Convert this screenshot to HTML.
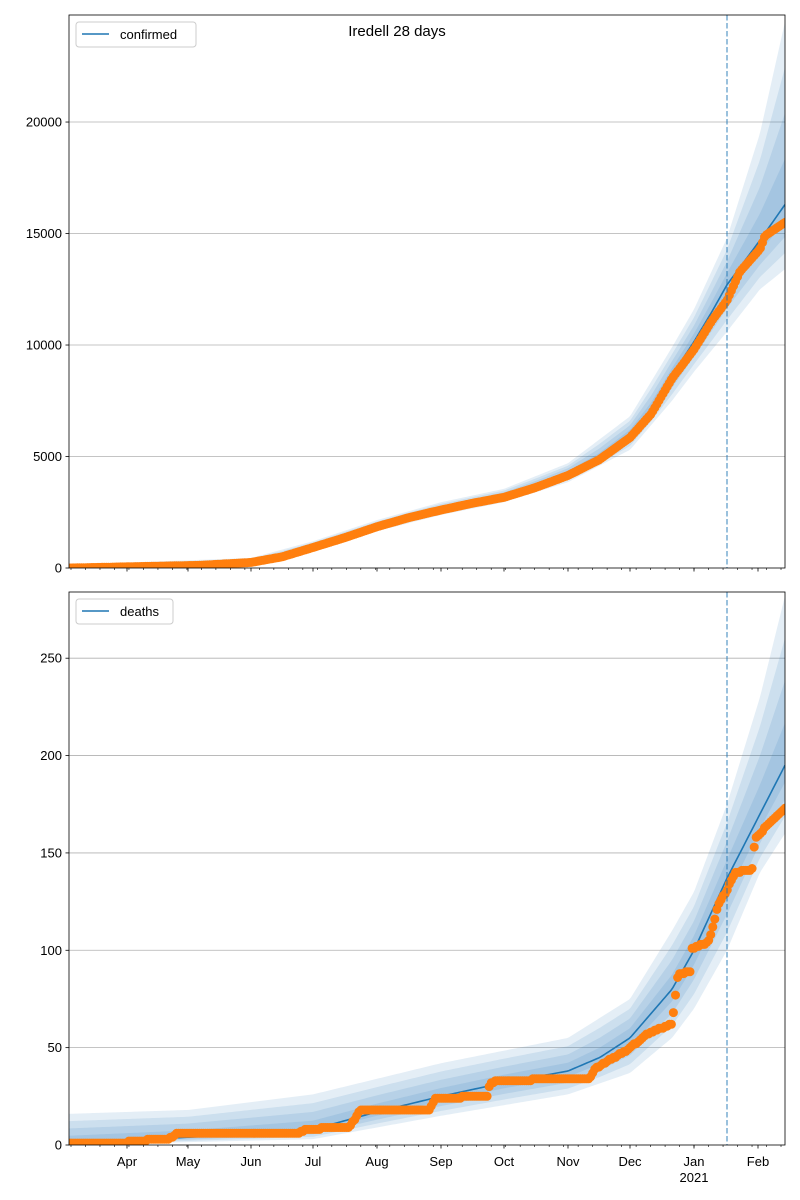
<!DOCTYPE html>
<html><head><meta charset="utf-8">
<style>body{margin:0;background:#fff}svg{display:block;font-family:"Liberation Sans","DejaVu Sans",sans-serif}</style>
</head><body>
<svg id="s" width="800" height="1200" xmlns="http://www.w3.org/2000/svg"></svg>
<script>
const S=document.getElementById('s');let h='';
function ip(k,x){if(x<=k[0][0])return k[0][1];for(let i=1;i<k.length;i++){if(x<=k[i][0]){const a=k[i-1],b=k[i];return a[1]+(b[1]-a[1])*(x-a[0])/(b[0]-a[0]);}}return k[k.length-1][1];}
const X0=69,X1=785,DX=2.07;
function panel(top,bot,vmax,ticks,mid,lo,hi,obs,label,step){
  const Y=v=>bot-(v/vmax)*(bot-top);
  ticks.forEach(t=>{const y=Y(t);if(t>0)h+=`<line x1="${X0}" x2="${X1}" y1="${y}" y2="${y}" stroke="#b0b0b0" stroke-width="0.8"/>`;
    h+=`<line x1="${X0-3.5}" x2="${X0}" y1="${y}" y2="${y}" stroke="#000" stroke-width="0.8"/><text x="${X0-7}" y="${y+4.5}" font-size="13" text-anchor="end">${t}</text>`;});
  h+=`<clipPath id="c${top}"><rect x="${X0}" y="${top}" width="${X1-X0}" height="${bot-top}"/></clipPath><g clip-path="url(#c${top})">`;
  [1,0.75,0.5,0.25].forEach(f=>{let up=[],dn=[];for(let x=X0;x<=X1;x+=2){const m=ip(mid,x);up.push(x+','+Y(m+(ip(hi,x)-m)*f));dn.unshift(x+','+Y(m-(m-ip(lo,x))*f));}
    h+=`<polygon points="${up.join(' ')} ${dn.join(' ')}" fill="rgba(31,119,180,0.12)"/>`;});
  let p=[];for(let x=X0;x<=X1;x+=2)p.push(x+','+Y(ip(mid,x)));
  h+=`<polyline points="${p.join(' ')}" fill="none" stroke="#1f77b4" stroke-width="1.6"/>`;
  for(let x=X0;x<=X1+1;x+=DX){let v=ip(obs,x);if(step)v=Math.round(v);h+=`<circle cx="${x.toFixed(1)}" cy="${Y(v).toFixed(1)}" r="4.5" fill="#ff7f0e"/>`;}
  h+=`</g><line x1="727" x2="727" y1="${top}" y2="${bot}" stroke="#1f77b4" stroke-opacity="0.6" stroke-width="1.5" stroke-dasharray="5.5,2.5"/>`;
  h+=`<rect x="${X0}" y="${top}" width="${X1-X0}" height="${bot-top}" fill="none" stroke="#000" stroke-width="0.8"/>`;
  for(let x=X0+2;x<X1;x+=DX*7)h+=`<line x1="${x}" x2="${x}" y1="${bot}" y2="${bot+2}" stroke="#000" stroke-width="0.6"/>`;
  [127,188,251,313,377,441,504,568,630,694,758].forEach(x=>h+=`<line x1="${x}" x2="${x}" y1="${bot}" y2="${bot+3.5}" stroke="#000" stroke-width="0.8"/>`);
  const w=label=='confirmed'?120:97;
  h+=`<rect x="76" y="${top+7}" width="${w}" height="25" rx="3" fill="#fff" fill-opacity="0.8" stroke="#ccc"/><line x1="82" x2="109" y1="${top+19}" y2="${top+19}" stroke="#1f77b4" stroke-width="1.6"/><text x="120" y="${top+24}" font-size="13">${label}</text>`;
}
panel(15,568,24800,[0,5000,10000,15000,20000],
 [[69,0],[200,150],[251,300],[282,550],[313,980],[344,1420],[377,1880],[408,2290],[441,2640],[472,2950],[504,3240],[535,3680],[568,4250],[599,4950],[630,6000],[651,7100],[672,8650],[694,10150],[712,11500],[727,12700],[760,14700],[785,16300]],
 [[69,0],[251,180],[313,800],[377,1650],[441,2380],[504,2950],[568,3850],[630,5300],[672,7500],[694,8800],[727,10600],[760,12500],[785,13400]],
 [[69,150],[251,450],[313,1200],[377,2150],[441,2950],[504,3550],[568,4700],[630,6800],[672,9900],[694,11600],[727,14800],[760,19500],[785,24500]],
 [[69,0],[200,120],[251,250],[282,500],[313,920],[344,1350],[377,1850],[408,2250],[441,2600],[472,2900],[504,3170],[535,3600],[568,4150],[599,4850],[630,5850],[651,6900],[672,8500],[694,9800],[712,11100],[727,12000],[740,13300],[760,14300],[765,14900],[785,15500]],
 'confirmed',false);
panel(592,1145,284,[0,50,100,150,200,250],
 [[69,1],[188,4],[313,8],[377,17],[441,25],[504,32],[568,38],[600,45],[630,55],[672,80],[694,100],[727,137],[785,195]],
 [[69,0],[313,3],[441,15],[568,26],[630,37],[672,55],[694,70],[727,100],[760,140],[785,160]],
 [[69,16],[188,18],[313,26],[441,42],[568,55],[630,75],[672,110],[694,130],[727,175],[760,230],[785,282]],
 [[69,1],[125,1.4],[145,2],[150,3],[170,3.4],[176,6],[300,6.4],[305,8],[350,9.4],[360,18],[430,18.4],[435,24],[487,25],[490,32],[500,33],[590,34.4],[595,39],[610,44],[625,48],[650,58],[672,62],[678,88],[690,89],[692,101],[708,104],[712,110],[718,123],[727,131],[735,140],[752,141.4],[755,157],[770,166],[785,173]],
 'deaths',true);
h+=`<text x="397" y="36" font-size="15" text-anchor="middle">Iredell 28 days</text>`;
[['Apr',127],['May',188],['Jun',251],['Jul',313],['Aug',377],['Sep',441],['Oct',504],['Nov',568],['Dec',630],['Jan',694],['Feb',758]].forEach(([t,x])=>h+=`<text x="${x}" y="1166" font-size="13" text-anchor="middle">${t}</text>`);
h+=`<text x="694" y="1182" font-size="13" text-anchor="middle">2021</text>`;
S.innerHTML=h;
</script>
</body></html>
